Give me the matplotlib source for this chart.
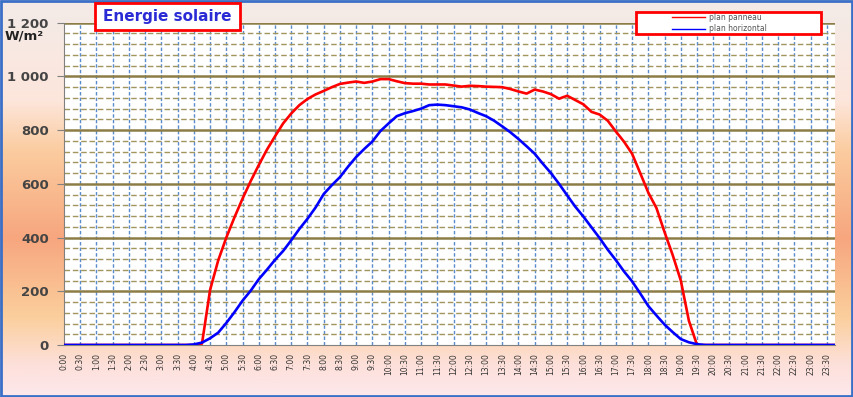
import numpy as np
import matplotlib.pyplot as plt
from matplotlib.patches import Rectangle
from matplotlib.lines import Line2D
from matplotlib.colors import LinearSegmentedColormap

# quarter-hour time axis (hours) and irradiance in W/m2
heures = np.arange(0, 24, 0.25)

plan_panneau = [0] * 16 + [
    0, 5, 205, 315, 400, 475, 545, 610,
    670, 727, 777, 825, 862, 893, 916, 933,
    946, 960, 972, 977, 981, 976, 981, 990,
    990, 982, 975, 973, 973, 970, 970, 970,
    966, 962, 965, 964, 962, 961, 960, 953,
    944, 936, 951, 944, 934, 917, 928, 912,
    896, 868, 858, 835, 795, 757, 712, 640,
    567, 510, 420, 335, 240, 90, 0, 0] + [0] * 16

plan_horizontal = [0] * 16 + [
    2, 9, 25, 46, 82, 122, 165, 202,
    245, 280, 317, 350, 390, 432, 470, 512,
    562, 595, 625, 664, 700, 730, 758, 797,
    825, 852, 863, 871, 880, 893, 895, 893,
    889, 885, 877, 864, 852, 835, 814, 792,
    767, 740, 712, 675, 640, 600, 557, 515,
    478, 438, 398, 355, 316, 274, 237, 192,
    145, 110, 76, 48, 22, 10, 3, 0] + [0] * 16

tick_pos = np.arange(0, 24, 0.5)
tick_labels = ['%d:%02d' % (int(h), int(round((h % 1) * 60))) for h in tick_pos]
y_ticks = [0, 200, 400, 600, 800, 1000, 1200]
y_labels = ['0', '200', '400', '600', '800', '1 000', '1 200']

W, H = 854, 397
fig = plt.figure(figsize=(W / 100, H / 100), dpi=100)

def fx(px):
    return px / W

def fy(py):
    return 1 - py / H

# gradient background of the chart area
bg = fig.add_axes([0, 0, 1, 1], zorder=-5)
bg_cmap = LinearSegmentedColormap.from_list('bg', [
    (0.0, '#f3ebe8'), (0.25, '#fde6dc'), (0.38, '#fbcc9f'),
    (0.6, '#f7a67e'), (0.8, '#fbcf9d'), (0.92, '#fde0da'), (1.0, '#fde8ec')])
bg.imshow(np.linspace(0, 1, 256).reshape(-1, 1), aspect='auto', cmap=bg_cmap,
          extent=[0, 1, 0, 1], origin='upper')
bg.set_xlim(0, 1)
bg.set_ylim(0, 1)
bg.axis('off')

ax = fig.add_axes([fx(64), fy(345), (835 - 64) / W, (345 - 22.7) / H])
ax.set_facecolor('white')

# grid: dashed blue verticals, dashed olive minors, solid olive majors
for x in tick_pos[1:]:
    ax.axvline(x, color='#5a8ccc', lw=1.0, ls=(0, (2.5, 1.5)), zorder=1)
for y in range(40, 1200, 40):
    if y % 200:
        ax.axhline(y, color='#a3955e', lw=1.0, ls=(0, (4, 2)), zorder=1)
for y in y_ticks[1:]:
    ax.axhline(y, color='#8c7d46', lw=1.8, zorder=1)

ax.plot(heures, plan_panneau, color='#ff0000', lw=1.9, zorder=3)
ax.plot(heures, plan_horizontal, color='#0000ff', lw=1.9, zorder=3)

ax.set_xlim(0, 23.75)
ax.set_ylim(0, 1200)
ax.set_xticks(tick_pos)
ax.set_xticklabels(tick_labels, rotation=90, fontsize=5.5, color='#333333')
ax.set_yticks(y_ticks)
ax.set_yticklabels(y_labels, fontsize=9.5, fontweight='bold', color='#444444')
ax.tick_params(axis='y', length=5, color='#808080', pad=6)
ax.tick_params(axis='x', length=0, pad=6)
for s in ['top', 'right']:
    ax.spines[s].set_visible(False)
ax.spines['left'].set_color('#808080')
ax.spines['bottom'].set_color('#808080')

fig.text(fx(5), fy(36), 'W/m²', fontsize=9.5, fontweight='bold',
         color='#222222', va='center', ha='left')

# title box
fig.patches.append(Rectangle((fx(95), fy(30)), fx(240) - fx(95), fy(3) - fy(30),
                             transform=fig.transFigure, facecolor='white',
                             edgecolor='#ff0000', lw=2, zorder=5))
fig.text(fx(167), fy(16.5), 'Energie solaire', fontsize=11, fontweight='bold',
         color='#2b2bd6', ha='center', va='center', zorder=6)

# legend box drawn by hand
fig.patches.append(Rectangle((fx(636), fy(34)), fx(821) - fx(636), fy(12.5) - fy(34),
                             transform=fig.transFigure, facecolor='white',
                             edgecolor='#ff0000', lw=2, zorder=5))
for yy, col, lab in [(17, '#ff0000', 'plan panneau'), (28.5, '#0000ff', 'plan horizontal')]:
    fig.lines.append(Line2D([fx(672), fx(705)], [fy(yy), fy(yy)], color=col, lw=1.0,
                            transform=fig.transFigure, zorder=6))
    fig.text(fx(709), fy(yy), lab, fontsize=5.5, color='#555555', va='center',
             ha='left', zorder=6)

# outer blue frame
fig.patches.append(Rectangle((0.001, 0.002), 0.997, 0.995, transform=fig.transFigure,
                             fill=False, edgecolor='#3a6fc8', lw=2))

fig.savefig('out.png', dpi=100)
